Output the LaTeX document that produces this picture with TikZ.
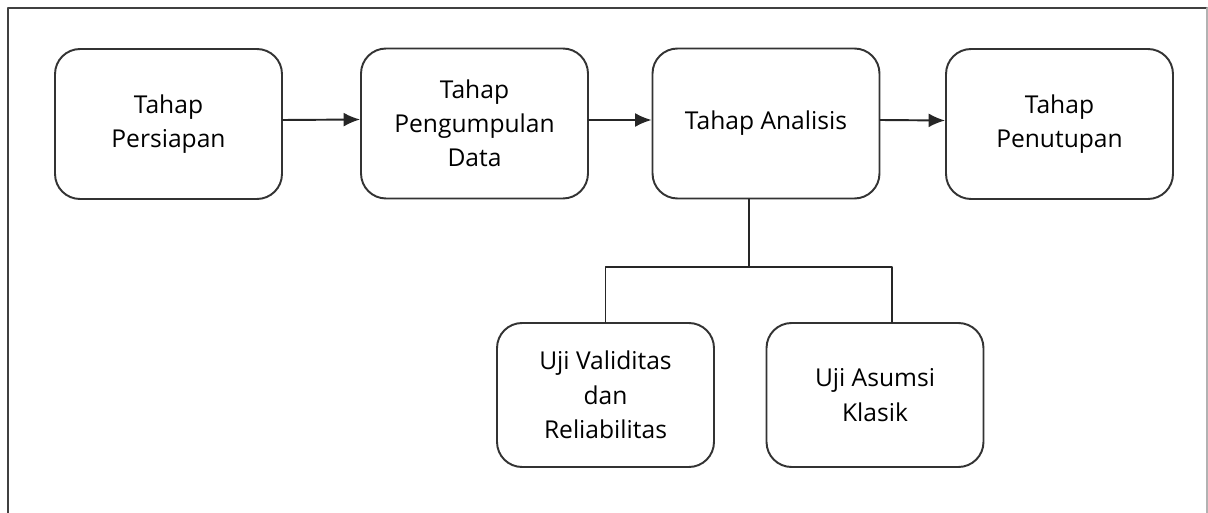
\documentclass[tikz,border=0pt]{standalone}
\usepackage{fontspec}
\setmainfont{Open Sans}
\usetikzlibrary{arrows.meta}
\begin{document}
\begin{tikzpicture}[x=0.02cm,y=-0.02cm,>={Latex[length=3.3mm,width=2.8mm]},
	line join=round, line cap=round,
	tahap/.style={draw=black!80, line width=1.1pt, rounded corners=0.5cm, align=center,
		minimum width=4.54cm, minimum height=3cm, inner sep=0pt, text=black,
		font=\fontsize{14}{19.5}\selectfont},
	uji/.style={tahap, minimum width=4.34cm, minimum height=2.88cm},
	garis/.style={black!85, line width=1.1pt}]
	\useasboundingbox (0,0) rectangle (1208,513);
	\clip (0,0) rectangle (1208,513);
	% bingkai luar
	\draw[black!75, line width=1.1pt] (8,530)--(8,8)--(1207,8);
	\draw[black!30, line width=1.1pt] (1207,8)--(1207,530);
	% tahapan
	\node[tahap] (p1) at (168.5,124) {Tahap\\Persiapan};
	\node[tahap] (p2) at (474.5,123.5) {Tahap\\Pengumpulan\\Data};
	\node[tahap] (p3) at (766,123.5) {Tahap Analisis};
	\node[tahap] (p4) at (1059.5,124) {Tahap\\Penutupan};
	\node[uji] (p5) at (605.5,395) {Uji Validitas\\dan\\Reliabilitas};
	\node[uji] (p6) at (875,395) {Uji Asumsi\\Klasik};
	\draw[garis,->] ([yshift=0.08cm]p1.east)--([yshift=0.08cm]p2.west);
	\draw[garis,->] ([yshift=0.07cm]p2.east)--([yshift=0.07cm]p3.west);
	\draw[garis,->] ([yshift=0.07cm]p3.east)--([yshift=0.07cm]p4.west);
	% cabang analisis
	\coordinate (cabang) at (749,267);
	\coordinate (kanan) at (892,267);
	\draw[garis] (cabang |- p3.south)--(cabang)-|(p5.north);
	\draw[garis] (cabang)--(kanan)--(kanan |- p6.north);
\end{tikzpicture}
\end{document}
